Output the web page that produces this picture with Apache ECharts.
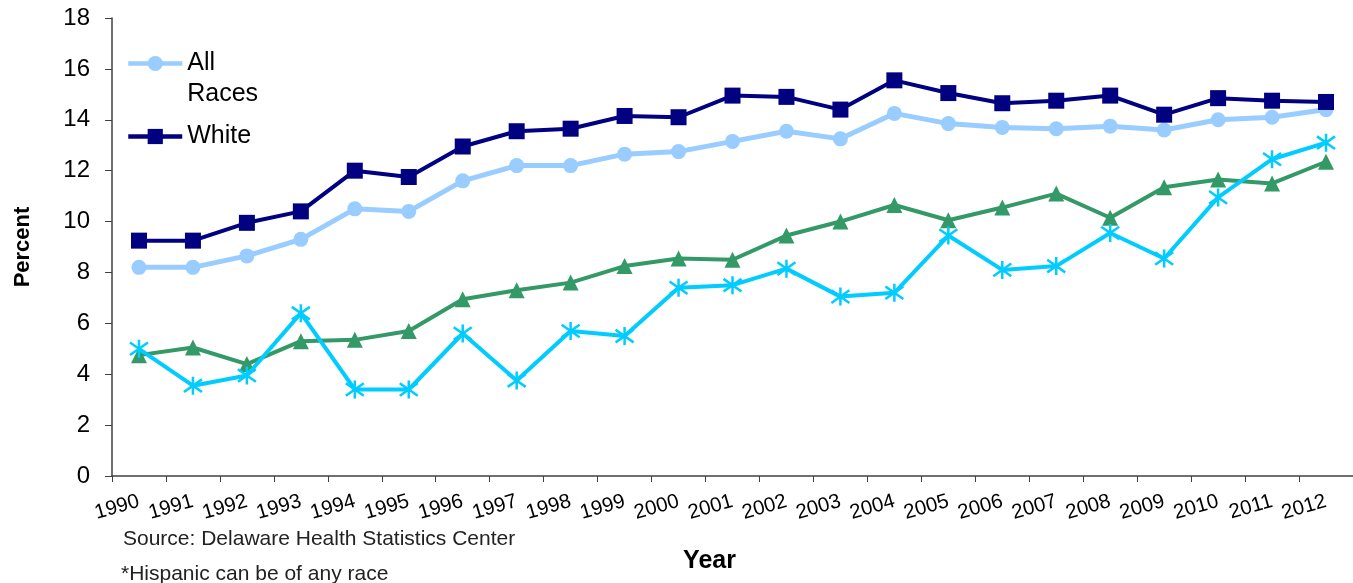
<!DOCTYPE html>
<html>
<head>
<meta charset="utf-8">
<script src="https://cdn.jsdelivr.net/npm/echarts@6/dist/echarts.min.js"></script>
<style>
html,body{margin:0;padding:0;background:#fff;}
#chart{width:1353px;height:583px;}
</style>
</head>
<body>
<div id="chart"></div>
<script>
const years = ['1990','1991','1992','1993','1994','1995','1996','1997','1998','1999','2000','2001','2002','2003','2004','2005','2006','2007','2008','2009','2010','2011','2012'];
const allRaces = [8.2,8.2,8.65,9.3,10.5,10.4,11.6,12.2,12.2,12.65,12.75,13.15,13.55,13.25,14.25,13.85,13.7,13.65,13.75,13.6,14.0,14.1,14.4];
const white = [9.25,9.25,9.95,10.4,12.0,11.75,12.95,13.55,13.65,14.15,14.1,14.95,14.9,14.4,15.55,15.05,14.65,14.75,14.95,14.2,14.85,14.75,14.7];
const black = [4.75,5.05,4.4,5.3,5.35,5.7,6.95,7.3,7.6,8.25,8.55,8.5,9.45,10.0,10.65,10.05,10.55,11.1,10.15,11.35,11.65,11.5,12.35];
const hispanic = [5.0,3.55,3.95,6.4,3.4,3.4,5.6,3.75,5.7,5.5,7.4,7.5,8.15,7.05,7.2,9.45,8.1,8.25,9.55,8.55,10.95,12.45,13.1];
const yTicks = [0,2,4,6,8,10,12,14,16,18];

const chart = echarts.init(document.getElementById('chart'), null, {renderer:'canvas'});
const font = 'Liberation Sans, Arial, sans-serif';
chart.setOption({
  animation:false,
  backgroundColor:'#fff',
  grid:{left:112, right:-6, top:18, bottom:107, containLabel:false},
  legend:{
    orient:'vertical', left:121, top:12, itemWidth:54, itemHeight:19, itemGap:11,
    lineStyle:{width:4.5},
    textStyle:{fontFamily:font, fontSize:25, color:'#000', lineHeight:31},
    data:[{name:'All Races'}, {name:'White'}],
    formatter:function(n){return n==='All Races' ? ' \nAll\nRaces' : n;}
  },
  xAxis:{
    type:'category', data:years, boundaryGap:true,
    name:'Year', nameLocation:'middle', nameGap:73,
    nameTextStyle:{fontFamily:font, fontSize:25, fontWeight:'bold', color:'#000', padding:[0,46,0,0]},
    axisLine:{lineStyle:{color:'#404040', width:1.5}},
    axisTick:{show:true, length:6, lineStyle:{color:'#404040'}},
    axisLabel:{rotate:16, margin:25, fontFamily:font, fontSize:20.5, color:'#000', interval:0}
  },
  yAxis:{
    type:'value', min:0, max:18, interval:2,
    name:'Percent', nameLocation:'middle', nameGap:78,
    nameTextStyle:{fontFamily:font, fontSize:22, fontWeight:'bold', color:'#000'},
    splitLine:{show:false},
    axisLine:{show:true, lineStyle:{color:'#404040', width:1.5}},
    axisTick:{show:true, length:7, lineStyle:{color:'#404040'}},
    axisLabel:{margin:22, fontFamily:font, fontSize:24, color:'#000',
      formatter:function(v){return yTicks.indexOf(v)>=0 ? String(v) : '';}}
  },
  series:[
    {name:'All Races', type:'line', data:allRaces, color:'#99CCFF', symbol:'circle', symbolSize:15,
     lineStyle:{width:5, color:'#99CCFF'}, itemStyle:{color:'#99CCFF', borderWidth:0}, z:2},
    {name:'White', type:'line', data:white, color:'#000080', symbol:'rect', symbolSize:16,
     lineStyle:{width:4, color:'#000080'}, itemStyle:{color:'#000080', borderWidth:0}, z:3},
    {name:'Black', type:'line', data:black, color:'#339966', symbol:'triangle', symbolSize:16,
     lineStyle:{width:4, color:'#339966'}, itemStyle:{color:'#339966', borderWidth:0}, z:4},
    {name:'Hispanic*', type:'line', data:hispanic, color:'#00CCFF',
     symbol:'path://M5,0L5,10M0,1.5L10,8.5M0,8.5L10,1.5', symbolSize:18, symbolKeepAspect:true,
     lineStyle:{width:4, color:'#00CCFF'}, itemStyle:{color:'#00CCFF', borderColor:'#00CCFF', borderWidth:2.5}, z:5}
  ],
  graphic:[
    {type:'text', left:123, top:529, style:{text:'Source: Delaware Health Statistics Center', font:'21px Liberation Sans, Arial, sans-serif', fill:'#222'}},
    {type:'text', left:121, top:564, style:{text:'*Hispanic can be of any race', font:'21px Liberation Sans, Arial, sans-serif', fill:'#222'}}
  ]
});
</script>
</body>
</html>
